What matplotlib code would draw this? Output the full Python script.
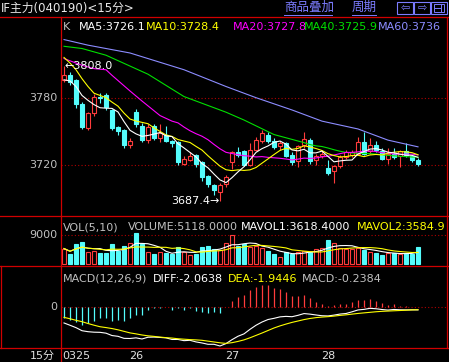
import numpy as np
import pandas as pd
import matplotlib
matplotlib.use("Agg")
import matplotlib.pyplot as plt
from matplotlib.transforms import Affine2D, blended_transform_factory
from matplotlib.lines import Line2D
from matplotlib.patches import Rectangle

# 15分钟K线, 读图估计的数值
opens = [3796, 3800, 3796, 3774, 3753, 3766, 3781, 3782, 3769, 3754,
         3751, 3738, 3767, 3755, 3742, 3755, 3744, 3747, 3741, 3740,
         3721, 3724, 3729, 3722, 3710, 3702, 3696, 3703, 3722, 3731,
         3732, 3720, 3733, 3741, 3747, 3741, 3737, 3739, 3729, 3723,
         3738, 3742, 3724, 3728, 3717, 3714, 3719, 3727, 3729, 3730,
         3740, 3732, 3738, 3732, 3725, 3730, 3728, 3732, 3728, 3724]
closes = [3800, 3794, 3774, 3754, 3766, 3781, 3780, 3772, 3753, 3750,
          3738, 3741, 3756, 3742, 3754, 3744, 3748, 3741, 3739, 3722,
          3725, 3728, 3721, 3709, 3703, 3697, 3702, 3709, 3731, 3729,
          3720, 3733, 3742, 3748, 3741, 3736, 3739, 3728, 3722, 3737,
          3743, 3723, 3728, 3730, 3713, 3719, 3727, 3731, 3731, 3740,
          3730, 3738, 3733, 3725, 3730, 3727, 3732, 3729, 3724, 3721]
highs = [3808, 3803, 3797, 3776, 3767, 3783, 3784, 3784, 3770, 3755,
         3752, 3744, 3770, 3757, 3756, 3756, 3756, 3755, 3742, 3741,
         3728, 3731, 3730, 3723, 3711, 3703, 3704, 3711, 3732, 3736,
         3733, 3739, 3745, 3751, 3749, 3744, 3741, 3740, 3731, 3738,
         3749, 3744, 3730, 3732, 3724, 3720, 3729, 3733, 3733, 3745,
         3749, 3744, 3741, 3735, 3735, 3735, 3733, 3739, 3729, 3726]
lows = [3794, 3791, 3771, 3752, 3751, 3764, 3775, 3769, 3751, 3747,
        3735, 3735, 3754, 3740, 3739, 3742, 3740, 3740, 3736, 3720,
        3720, 3723, 3718, 3705, 3700, 3693, 3687.4, 3700, 3716, 3727,
        3719, 3719, 3732, 3739, 3739, 3734, 3733, 3727, 3720, 3718,
        3735, 3721, 3720, 3726, 3711, 3704, 3717, 3725, 3727, 3729,
        3729, 3730, 3731, 3724, 3721, 3725, 3718, 3727, 3722, 3719]
volumes = [4800, 3100, 6200, 6800, 3600, 4000, 3300, 3400, 6300, 4100,
           5500, 6600, 9500, 6200, 3600, 3000, 3600, 3300, 3100, 5300,
           3600, 2800, 3200, 5400, 5600, 4600, 4300, 6400, 8900, 5700,
           6100, 5400, 5700, 4900, 4000, 3000, 2300, 3800, 3000, 3800,
           4000, 3800, 4650, 5000, 7400, 6400, 5000, 4800, 4650, 5000,
           4200, 3800, 3400, 2800, 3500, 3400, 3100, 3300, 3200, 5118]
macd_hist = [-8.0, -9.3, -10.5, -12.9, -11.7, -10.0, -8.0, -8.0, -10.0, -9.3,
             -10.0, -8.0, -5.7, -5.7, -2.0, -1.0, -0.5, -0.3, -2.0, -1.0,
             -2.1, -1.0, -2.9, -3.8, -4.5, -3.3, -4.5, -0.3, 4.3, 7.4,
             8.6, 12.1, 14.5, 15.7, 15.7, 13.8, 12.9, 11.0, 8.1, 8.1,
             8.6, 6.2, 3.8, 1.9, 1.0, 1.4, 1.9, 1.9, 3.3, 5.0,
             5.0, 5.7, 4.3, 2.6, 1.4, 1.9, 1.0, 0.5, 0.2, -0.2384]
dea = [-7.4, -8.4, -9.5, -10.5, -11.8, -13.0, -14.1, -14.7, -15.4, -16.3,
       -17.4, -18.5, -19.2, -20.0, -20.6, -21.0, -21.5, -21.9, -22.2, -22.7,
       -23.0, -23.3, -23.5, -23.8, -24.4, -25.0, -25.6, -26.0, -25.5, -24.6,
       -23.5, -22.0, -20.3, -18.6, -16.8, -15.0, -13.5, -12.2, -11.0, -10.0,
       -9.0, -8.2, -7.6, -7.2, -6.9, -6.5, -6.0, -5.6, -5.1, -4.6,
       -4.2, -3.8, -3.4, -3.1, -2.9, -2.7, -2.5, -2.3, -2.1, -1.9446]

# 均线开头部分(之前的数据不在图上), 直接读图
ma5_head = [3796, 3795, 3790, 3782]
ma10_head = [3816, 3811, 3805, 3797, 3790, 3784, 3782, 3780, 3776]
ma20_head_x = [0, 3, 5, 7, 8, 11, 13, 16, 18]
ma20_head = [3815, 3809, 3806, 3805, 3800, 3786, 3777, 3764, 3759]
ma40_head_x = [0, 3, 7, 14, 20, 27, 30, 35]
ma40_head = [3826, 3824, 3818, 3801, 3781, 3767, 3760, 3747]
ma60_x = [0, 4, 11, 20, 27, 32, 38, 43, 49, 54, 59]
ma60_vals = [3832, 3827, 3820, 3805, 3790, 3780, 3769, 3759, 3752, 3742, 3736]

day_labels = ["0325", "26", "27", "28"]
day_starts = [0, 12, 28, 44]
price_ticks = [3780, 3720]
vol_ticks = [9000]

W, H = 449, 362
BG = "black"
RED = "#ff3c3c"
CYAN = "#54fcfc"
FRAME = "#d00000"
GRID = "#b00000"
GREY = "#c0c0c0"
YEL = "#ffff00"
MAG = "#ff00ff"
GRN = "#00e000"
LAV = "#8c8cff"
LINK = "#7c7cff"

plt.rcParams['font.family'] = ['DejaVu Sans', 'Noto Sans CJK SC']
plt.rcParams['font.size'] = 8

fig = plt.figure(figsize=(W / 100, H / 100), dpi=100, facecolor=BG)
# 像素坐标 (左上角为原点)
pix = Affine2D().scale(1.0 / W, -1.0 / H).translate(0, 1) + fig.transFigure

X0, X1 = 61, 447


def panel(top, bottom, ylim):
    ax = fig.add_axes([X0 / W, 1 - bottom / H, (X1 - X0) / W, (bottom - top) / H])
    ax.set_xlim(-0.5, (X1 - 64) / 6)
    ax.set_ylim(*ylim)
    ax.set_axis_off()
    return ax


ax_k = panel(17, 215, (3675.0, 3852.2))
ax_v = panel(216, 266, (-620, 14880))
ax_m = panel(266, 348, (-29.3, 29.3))

x = np.arange(len(closes))
o = np.array(opens, float)
c = np.array(closes, float)
h = np.array(highs, float)
l = np.array(lows, float)
up = c >= o
edge = np.where(up, RED, CYAN)
face = np.where(up, BG, CYAN)
dots = (0, (1, 2))

# K线
ax_k.vlines(x, l, h, colors=edge, lw=0.8, zorder=2)
ax_k.bar(x, np.maximum(np.abs(c - o), 0.4), bottom=np.minimum(o, c), width=0.72,
         color=face, edgecolor=edge, lw=0.8, zorder=3)

cl = pd.Series(c)
ma5 = cl.rolling(5).mean().to_numpy()
ma5[:len(ma5_head)] = ma5_head
ma10 = cl.rolling(10).mean().to_numpy()
ma10[:len(ma10_head)] = ma10_head
ma20 = cl.rolling(20).mean().to_numpy()
ma40 = cl.rolling(40).mean().to_numpy()
ax_k.plot(ma60_x, ma60_vals, color=LAV, lw=0.8, zorder=4)
ax_k.plot(ma40_head_x + list(x[39:]), ma40_head + list(ma40[39:]), color=GRN, lw=0.8, zorder=4)
ax_k.plot(ma20_head_x + list(x[19:]), ma20_head + list(ma20[19:]), color=MAG, lw=0.8, zorder=4)
ax_k.plot(x, ma10, color=YEL, lw=0.8, zorder=4)
ax_k.plot(x, ma5, color="white", lw=0.8, zorder=4)

lab_k = blended_transform_factory(pix, ax_k.transData)
for p in price_ticks:
    ax_k.axhline(p, color=GRID, lw=0.8, ls=dots, zorder=1)
    ax_k.text(57, p, str(p), transform=lab_k, ha="right", va="center", color=GREY, clip_on=False)

i_hi, i_lo = int(np.argmax(h)), int(np.argmin(l))
ax_k.text(i_hi + 0.1, h[i_hi], "\u2190%.1f" % h[i_hi], ha="left", va="center", color="white", zorder=5)
ax_k.text(i_lo, l[i_lo], "%.1f\u2192" % l[i_lo], ha="right", va="center", color="white", zorder=5)

for xp, s, col in [(63, "K", GREY), (79, "MA5:3726.1", "white"), (146, "MA10:3728.4", YEL),
                   (233, "MA20:3727.8", MAG), (304, "MA40:3725.9", GRN), (378, "MA60:3736", LAV)]:
    ax_k.text(xp, 27.3, s, transform=pix, color=col, ha="left", va="center", clip_on=True)

# 成交量
v = pd.Series(volumes, dtype=float)
ax_v.bar(x, v, width=0.72, color=face, edgecolor=edge, lw=0.8, zorder=3)
ax_v.plot(x, v.rolling(5, min_periods=1).mean(), color="white", lw=0.8, zorder=4)
ax_v.plot(x, v.rolling(10, min_periods=1).mean(), color=YEL, lw=0.8, zorder=4)
lab_v = blended_transform_factory(pix, ax_v.transData)
for t in vol_ticks:
    ax_v.axhline(t, color=GRID, lw=0.8, ls=dots, zorder=1)
    ax_v.text(57, t, str(t), transform=lab_v, ha="right", va="center", color=GREY, clip_on=False)
for xp, s, col in [(63, "VOL(5,10)", GREY), (128, "VOLUME:5118.0000", GREY),
                   (241, "MAVOL1:3618.4000", "white"), (357, "MAVOL2:3584.9", YEL)]:
    ax_v.text(xp, 227, s, transform=pix, color=col, ha="left", va="center", clip_on=True)

# MACD
hist = np.array(macd_hist)
dea_a = np.array(dea)
diff = dea_a + hist / 2
ax_m.axhline(0, color=GRID, lw=0.8, ls=dots, zorder=1)
ax_m.vlines(x, 0, hist, colors=np.where(hist >= 0, RED, CYAN), lw=0.9, zorder=2)
ax_m.plot(x, diff, color="white", lw=0.8, zorder=3)
ax_m.plot(x, dea_a, color=YEL, lw=0.8, zorder=3)
ax_m.text(57, 0, "0", transform=blended_transform_factory(pix, ax_m.transData),
          ha="right", va="center", color=GREY, clip_on=False)
for xp, s, col in [(63, "MACD(12,26,9)", GREY), (153, "DIFF:-2.0638", "white"),
                   (228, "DEA:-1.9446", YEL), (302, "MACD:-0.2384", GREY)]:
    ax_m.text(xp, 278.5, s, transform=pix, color=col, ha="left", va="center", clip_on=True)

# 日期
lab_d = blended_transform_factory(ax_m.transData, pix)
for i, (s, b) in enumerate(zip(day_labels, day_starts)):
    ax_m.text(b - 0.3 if i == 0 else b, 356, s, transform=lab_d, ha="left" if i == 0 else "center",
              va="center", color="#e0e0e0", clip_on=False)
fig.text(55, 356, "15分", transform=pix, ha="right", va="center", color="#e0e0e0")


# 边框
def seg(xs, ys, col=FRAME, lw=0.9):
    fig.add_artist(Line2D(xs, ys, transform=pix, color=col, lw=lw))


for yy in [17, 215.5, 266, 347.5]:
    seg([0, W], [yy, yy])
seg([61, 61], [17, H])
seg([446.5, 446.5], [17, 348])
seg([0.5, 0.5], [266, 348])

# 标题栏
fig.text(1, 8, "IF主力(040190)<15分>", transform=pix, color="#e8e8e8", ha="left", va="center", fontsize=8.5)
fig.text(284, 7.5, "商品叠加", transform=pix, color=LINK, ha="left", va="center", fontsize=9)
seg([284, 332], [14.5, 14.5], LINK, 0.7)
fig.text(352, 7.5, "周期", transform=pix, color=LINK, ha="left", va="center", fontsize=9)
seg([352, 376], [14.5, 14.5], LINK, 0.7)
for bx, sym in [(397, "\u21e6"), (414, "\u21e8"), (431, "")]:
    fig.add_artist(Rectangle((bx, 14), 16, -12, transform=pix, fill=False, edgecolor=LINK, lw=0.8))
    if sym:
        fig.text(bx + 8, 8, sym, transform=pix, color=LINK, ha="center", va="center", fontsize=8)
fig.add_artist(Rectangle((434, 12), 10, -8, transform=pix, fill=False, edgecolor=LINK, lw=0.7))
seg([440.5, 440.5], [4, 12], LINK, 0.7)
seg([435, 440], [8, 8], LINK, 0.7)

fig.savefig("out.png", dpi=100, facecolor=BG)
